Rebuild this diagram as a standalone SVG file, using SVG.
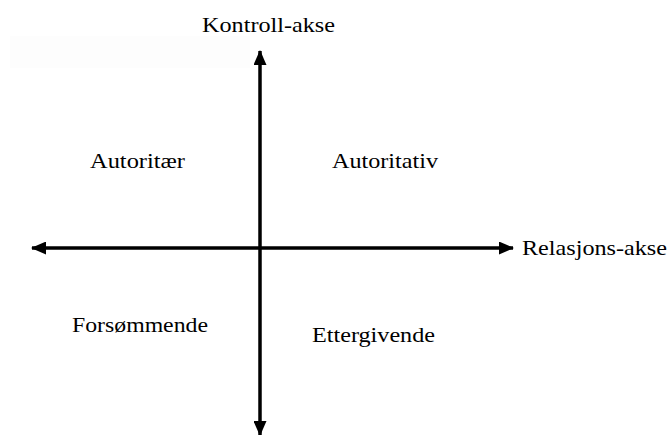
<svg xmlns="http://www.w3.org/2000/svg" width="671" height="435" viewBox="0 0 671 435">
<style>
text{font-family:"Liberation Serif","Times New Roman",serif;font-size:22px;fill:#000}
.ax{stroke:#000;stroke-width:3.5;fill:none}
</style>
<defs>
<marker id="ah" viewBox="0 0 15 13" refX="14" refY="6.5" markerWidth="15" markerHeight="13" markerUnits="userSpaceOnUse" orient="auto">
<path d="M0,0 L15,6.5 L0,13 Z" fill="#000"/>
</marker>
</defs>
<rect width="671" height="435" fill="#fff"/>
<rect x="10" y="36" width="240" height="32" fill="#fdfdfd"/>
<g id="connectors">
<line class="ax" x1="260" y1="248" x2="260" y2="51" marker-end="url(#ah)"/>
<line class="ax" x1="260" y1="248" x2="260" y2="435" marker-end="url(#ah)"/>
<line class="ax" x1="260" y1="248" x2="32" y2="248" marker-end="url(#ah)"/>
<line class="ax" x1="260" y1="248" x2="513" y2="248" marker-end="url(#ah)"/>
</g>
<g id="kontroll-akse"><text x="202" y="32" textLength="133" lengthAdjust="spacingAndGlyphs">Kontroll-akse</text></g>
<g id="relasjons-akse"><text x="522" y="255" textLength="145" lengthAdjust="spacingAndGlyphs">Relasjons-akse</text></g>
<g id="autoritaer"><text x="90" y="168" textLength="95" lengthAdjust="spacingAndGlyphs">Autoritær</text></g>
<g id="autoritativ"><text x="332" y="168" textLength="106" lengthAdjust="spacingAndGlyphs">Autoritativ</text></g>
<g id="forsommende"><text x="72" y="332" textLength="136" lengthAdjust="spacingAndGlyphs">Forsømmende</text></g>
<g id="ettergivende"><text x="312" y="342" textLength="123" lengthAdjust="spacingAndGlyphs">Ettergivende</text></g>
</svg>
